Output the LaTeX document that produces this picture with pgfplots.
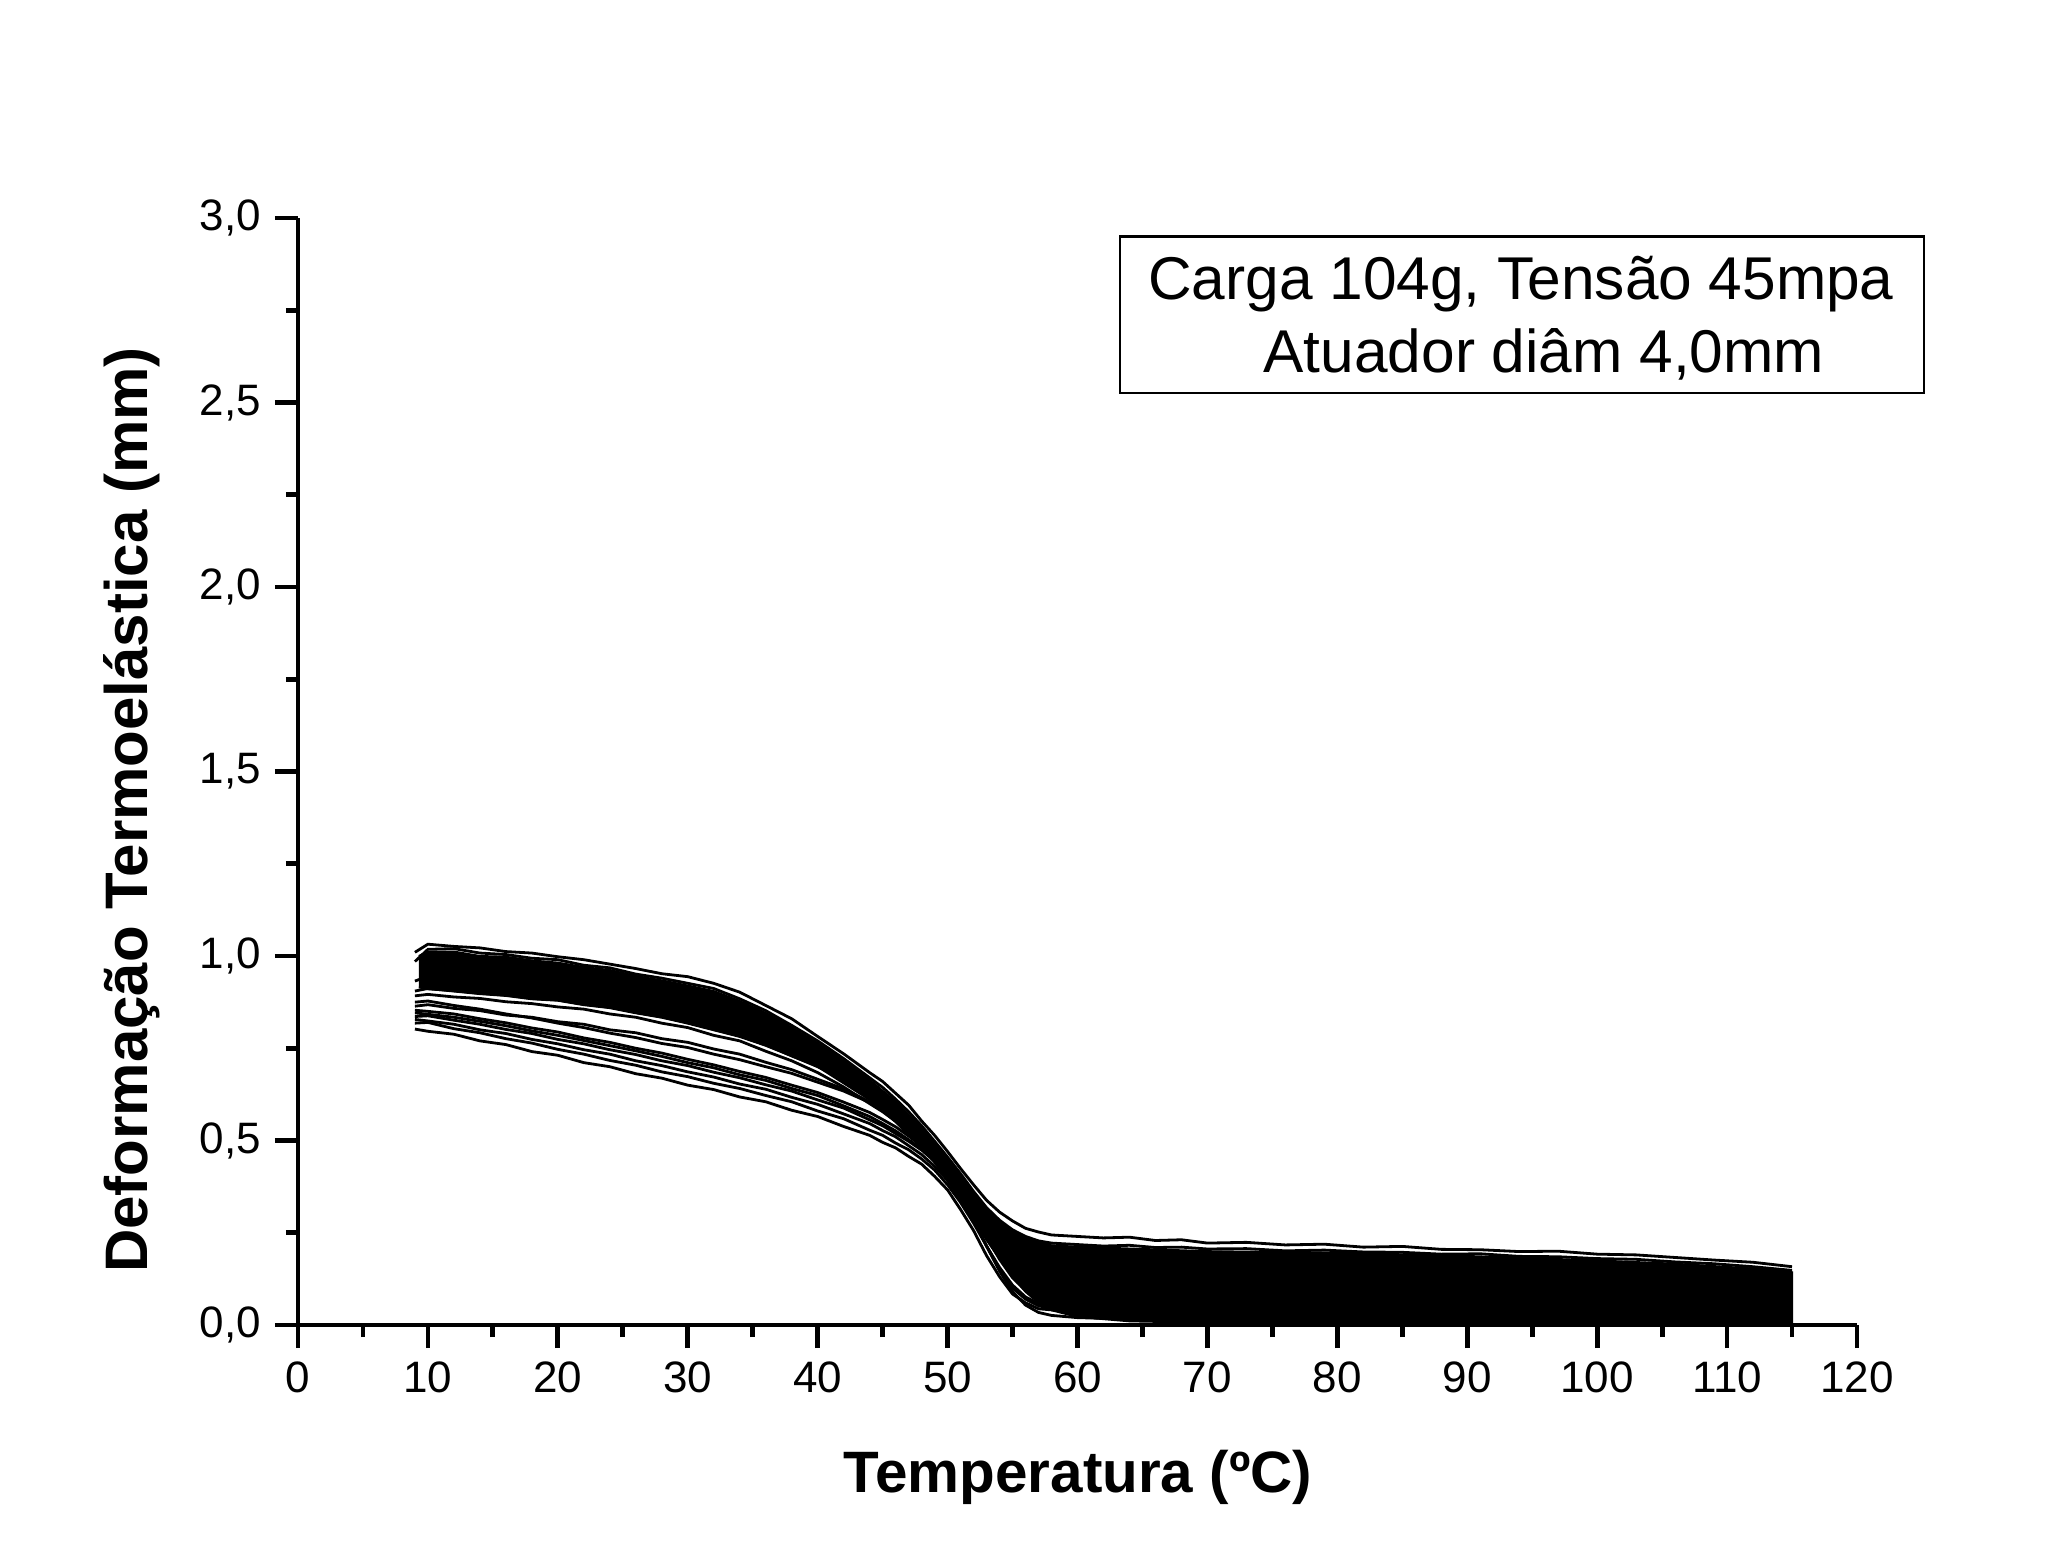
\documentclass[border=0pt]{standalone}
\usepackage{fontspec}
\setmainfont{Liberation Sans}
\usepackage{pgfplots}
\usepackage{pgfplotstable}
\pgfplotsset{compat=1.18}

\pgfplotstableread{
x c1 c2 c3 c4 l1 l2 l3 l4 l5 l6 l7 g1 g2
9 1.010 0.985 0.905 0.932 0.802 0.818 0.828 0.836 0.853 0.875 0.846 0.892 0.864
10 1.032 1.018 0.912 0.945 0.796 0.820 0.824 0.838 0.850 0.878 0.842 0.896 0.868
12 1.026 1.020 0.905 0.936 0.788 0.803 0.815 0.826 0.843 0.866 0.834 0.889 0.858
14 1.022 1.008 0.898 0.930 0.770 0.792 0.800 0.815 0.830 0.856 0.823 0.885 0.852
16 1.012 1.004 0.893 0.921 0.760 0.776 0.790 0.801 0.819 0.843 0.811 0.876 0.840
18 1.008 0.994 0.884 0.915 0.741 0.764 0.774 0.790 0.805 0.832 0.797 0.871 0.834
20 0.998 0.990 0.880 0.904 0.731 0.747 0.762 0.774 0.794 0.818 0.785 0.862 0.822
22 0.990 0.975 0.868 0.896 0.711 0.734 0.746 0.762 0.778 0.806 0.771 0.856 0.815
24 0.978 0.968 0.860 0.884 0.700 0.717 0.734 0.746 0.766 0.791 0.757 0.843 0.800
26 0.966 0.951 0.846 0.872 0.681 0.704 0.716 0.733 0.750 0.779 0.743 0.834 0.792
28 0.952 0.940 0.834 0.858 0.669 0.686 0.703 0.716 0.737 0.763 0.728 0.818 0.776
30 0.944 0.926 0.818 0.845 0.650 0.673 0.686 0.703 0.720 0.752 0.711 0.806 0.766
32 0.926 0.912 0.800 0.828 0.638 0.655 0.672 0.685 0.705 0.734 0.697 0.785 0.748
34 0.902 0.884 0.782 0.808 0.618 0.641 0.653 0.670 0.687 0.719 0.678 0.770 0.734
36 0.866 0.852 0.758 0.784 0.605 0.622 0.639 0.651 0.671 0.700 0.663 0.742 0.712
38 0.830 0.812 0.730 0.756 0.582 0.605 0.617 0.634 0.650 0.682 0.641 0.716 0.692
40 0.782 0.770 0.700 0.722 0.565 0.580 0.598 0.610 0.630 0.658 0.622 0.684 0.666
42 0.735 0.722 0.664 0.686 0.538 0.559 0.572 0.588 0.604 0.634 0.594 0.645 0.640
44 0.684 0.670 0.622 0.642 0.514 0.528 0.546 0.556 0.576 0.603 0.565 0.600 0.605
45 0.660 0.644 0.598 0.618 0.495 0.514 0.527 0.540 0.557 0.585 0.546 0.578 0.588
46 0.628 0.612 0.572 0.590 0.480 0.493 0.510 0.519 0.537 0.562 0.526 0.552 0.566
47 0.596 0.578 0.545 0.560 0.457 0.475 0.486 0.498 0.512 0.538 0.502 0.522 0.541
48 0.553 0.540 0.512 0.526 0.436 0.450 0.462 0.474 0.486 0.508 0.478 0.490 0.512
49 0.514 0.498 0.476 0.488 0.403 0.420 0.430 0.444 0.454 0.474 0.448 0.455 0.478
50 0.470 0.455 0.434 0.446 0.366 0.380 0.392 0.404 0.414 0.432 0.408 0.415 0.438
51 0.424 0.410 0.390 0.398 0.313 0.332 0.342 0.356 0.366 0.384 0.352 0.366 0.390
52 0.380 0.362 0.340 0.346 0.256 0.276 0.282 0.300 0.310 0.330 0.286 0.312 0.336
53 0.338 0.318 0.290 0.292 0.188 0.214 0.214 0.238 0.250 0.274 0.214 0.258 0.280
54 0.306 0.284 0.240 0.236 0.131 0.156 0.150 0.178 0.196 0.224 0.146 0.204 0.228
55 0.282 0.258 0.196 0.182 0.084 0.108 0.100 0.128 0.152 0.186 0.090 0.158 0.186
56 0.262 0.240 0.160 0.134 0.060 0.076 0.070 0.094 0.122 0.160 0.054 0.124 0.156
57 0.252 0.228 0.138 0.098 0.044 0.058 0.052 0.074 0.104 0.146 0.034 0.104 0.138
58 0.244 0.222 0.126 0.076 0.041 0.050 0.045 0.064 0.094 0.138 0.026 0.094 0.128
60 0.240 0.218 0.118 0.062 0.032 0.044 0.036 0.057 0.086 0.132 0.020 0.090 0.122
62 0.236 0.214 0.114 0.058 0.029 0.042 0.033 0.054 0.083 0.129 0.018 0.088 0.120
64 0.238 0.216 0.112 0.056 0.024 0.040 0.031 0.052 0.081 0.127 0.016 0.087 0.118
66 0.229 0.210 0.110 0.055 0.023 0.038 0.030 0.051 0.079 0.126 0.015 0.085 0.117
68 0.231 0.211 0.108 0.053 0.019 0.037 0.028 0.049 0.078 0.124 0.014 0.084 0.115
70 0.222 0.206 0.107 0.052 0.020 0.036 0.027 0.048 0.076 0.123 0.013 0.083 0.114
73 0.224 0.207 0.104 0.050 0.016 0.034 0.026 0.046 0.074 0.121 0.012 0.081 0.112
76 0.217 0.201 0.103 0.049 0.017 0.033 0.024 0.045 0.073 0.120 0.011 0.080 0.111
79 0.219 0.203 0.100 0.047 0.014 0.031 0.023 0.043 0.071 0.118 0.011 0.078 0.109
82 0.211 0.198 0.099 0.046 0.015 0.030 0.022 0.042 0.069 0.116 0.010 0.077 0.108
85 0.213 0.197 0.096 0.045 0.012 0.029 0.021 0.041 0.068 0.115 0.009 0.075 0.106
88 0.205 0.192 0.095 0.043 0.013 0.027 0.020 0.039 0.066 0.113 0.009 0.074 0.105
91 0.204 0.193 0.092 0.042 0.010 0.026 0.019 0.038 0.065 0.111 0.008 0.072 0.103
94 0.199 0.186 0.090 0.041 0.011 0.025 0.018 0.037 0.063 0.110 0.008 0.071 0.102
97 0.200 0.185 0.088 0.040 0.009 0.024 0.017 0.035 0.062 0.108 0.007 0.069 0.100
100 0.192 0.180 0.086 0.038 0.010 0.022 0.016 0.034 0.060 0.106 0.007 0.068 0.099
103 0.190 0.178 0.083 0.037 0.008 0.021 0.015 0.033 0.059 0.105 0.006 0.066 0.097
106 0.183 0.171 0.081 0.036 0.009 0.020 0.014 0.032 0.057 0.103 0.006 0.065 0.096
109 0.176 0.166 0.078 0.035 0.006 0.019 0.014 0.031 0.056 0.101 0.005 0.063 0.094
112 0.170 0.158 0.075 0.034 0.007 0.018 0.013 0.030 0.054 0.100 0.005 0.062 0.093
115 0.158 0.148 0.072 0.033 0.005 0.017 0.012 0.029 0.053 0.098 0.004 0.060 0.091
}\curves

\begin{document}
\begin{tikzpicture}
\path[use as bounding box] (-74.5pt,-60pt) rectangle (437.5pt,331.25pt);
\begin{axis}[
  at={(0,0)}, anchor=south west,
  scale only axis, width=389.75pt, height=276.75pt,
  xmin=0, xmax=120, ymin=0, ymax=3,
  axis lines=left,
  axis line style={line width=1.2pt, -},
  xtick={0,10,...,120}, minor x tick num=1,
  ytick={0,0.5,...,3}, minor y tick num=1,
  tick align=outside,
  major tick length=5.75pt, minor tick length=3pt,
  every tick/.style={line width=1.2pt, black},
  tick label style={font=\fontsize{11}{13}\selectfont},
  /pgf/number format/assume math mode=true,
  y tick label style={/pgf/number format/.cd, use comma, fixed, fixed zerofill, precision=1},
]
\addplot[fill=black, draw=black, line width=0.5pt] coordinates {
(9.3,1.000) (10,1.012) (12,1.012) (14,1.000) (16,0.998) (18,0.988) (20,0.982)
(22,0.970) (24,0.962) (26,0.946) (28,0.934) (30,0.920) (32,0.905) (34,0.878)
(36,0.846) (38,0.806) (40,0.764) (42,0.716) (44,0.664) (46,0.606) (48,0.534)
(50,0.449) (52,0.356) (54,0.278) (56,0.234) (58,0.216) (60,0.212) (70,0.200)
(80,0.196) (90,0.187) (100,0.175) (106,0.166) (112,0.153) (115,0.143)
(115,0.003) (90,0.004) (70,0.006) (64,0.010) (60,0.022) (58,0.040) (57,0.060)
(56,0.090) (55,0.130) (54,0.180) (53,0.230) (52,0.285) (51,0.340) (50,0.390)
(49,0.440) (48,0.480) (47,0.515) (46,0.550) (44,0.610) (42,0.655) (40,0.700)
(38,0.728) (36,0.758) (34,0.782) (32,0.800) (30,0.818) (28,0.834) (26,0.846)
(24,0.860) (22,0.868) (20,0.880) (18,0.884) (16,0.893) (14,0.898) (12,0.905)
(10,0.910) (9.3,0.915)
};
\pgfplotsinvokeforeach{c1,c2,c3,c4,l1,l2,l3,l4,l5,l6,l7,g1,g2}{
  \addplot[black, line width=0.7pt, mark=none] table[x=x, y=#1]{\curves};
}
\end{axis}
\node[anchor=base, font=\bfseries\fontsize{14.6}{17}\selectfont] at (195pt,-41.75pt) {Temperatura (ºC)};
\node[anchor=base, rotate=90, font=\bfseries\fontsize{15}{18}\selectfont] at (-37.5pt,128.75pt) {Deformação Termoelástica (mm)};
\draw[line width=0.6pt] (205.5pt,233pt) rectangle (406.5pt,272.1pt);
\node[anchor=base, font=\fontsize{15.1}{18}\selectfont] at (305.75pt,256.25pt) {Carga 104g, Tensão 45mpa};
\node[anchor=base, font=\fontsize{15.1}{18}\selectfont] at (311.5pt,238pt) {Atuador diâm 4,0mm};
\end{tikzpicture}
\end{document}
